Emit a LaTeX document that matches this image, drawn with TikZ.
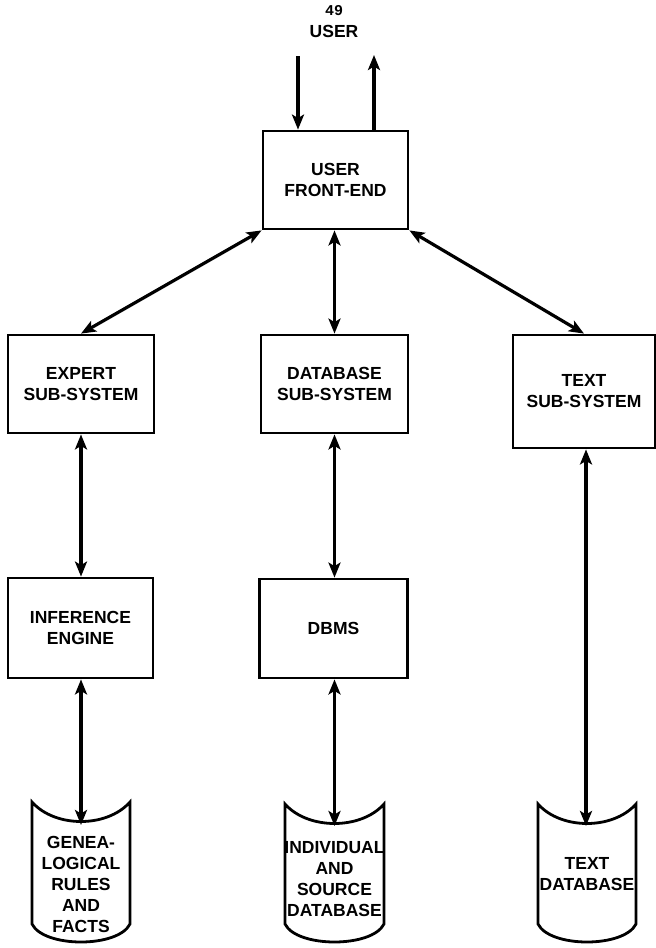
\documentclass[tikz,border=0pt]{standalone}
\usepackage{fontspec}
\setmainfont{Liberation Sans}
\newfontfamily\pagenumfont{Liberation Mono}
\usetikzlibrary{arrows.meta}
\begin{document}
\begin{tikzpicture}[x=1pt,y=-1pt,
  lbl/.style={font=\fontsize{17.5}{21}\selectfont\bfseries, align=center, inner sep=0pt},
  block/.style={draw, line width=2.8pt, inner sep=0pt},
  docshape/.style={draw, line width=2.8pt, line join=miter},
  tip/.tip={Stealth[length=15pt,width=12pt,inset=3.5pt]},
  link/.style={line width=3.2pt, {tip}-{tip}},
  oneway/.style={line width=3.2pt, -{tip}},
]
\useasboundingbox (0,0) rectangle (656,948);

% page number and the user at the top
\node[font=\pagenumfont\fontsize{15}{17}\selectfont\bfseries] (pnum) at (334,11) {49};
\node[lbl] (user) at (334,31) {USER};

% rectangular blocks
\node[block, minimum width=145pt, minimum height=98pt] (fe)  at (335.5,180) {};
\node[lbl] at (fe.center) {USER\\FRONT-END};

\node[block, minimum width=146pt, minimum height=98pt] (exp) at (81,384) {};
\node[lbl] at (exp.center) {EXPERT\\SUB-SYSTEM};

\node[block, minimum width=147pt, minimum height=98pt] (dbs) at (334.5,384) {};
\node[lbl] at (dbs.center) {DATABASE\\SUB-SYSTEM};

\node[block, minimum width=142pt, minimum height=113pt] (txs) at (584,391.5) {};
\node[lbl] at (txs.center) {TEXT\\SUB-SYSTEM};

\node[block, minimum width=145pt, minimum height=100pt] (inf) at (80.5,628) {};
\node[lbl] at (inf.center) {INFERENCE\\ENGINE};

\node[block, minimum width=148pt, minimum height=99pt] (dbms) at (333.5,628.5) {};
\node[lbl] at (dbms.center) {DBMS};

% storage (document) shapes
\draw[docshape] (32,802) .. controls (55,828) and (107,828) .. (130,802)
  -- (130,924) .. controls (118,948) and (44,948) .. (32,924) -- cycle;
\coordinate (gentop) at (81,825);
\node[lbl] (gen) at (81,884) {GENEA-\\LOGICAL\\RULES\\AND\\FACTS};

\draw[docshape] (285,804) .. controls (308,830) and (361,830) .. (384,804)
  -- (384,924) .. controls (372,948) and (297,948) .. (285,924) -- cycle;
\coordinate (indtop) at (334.5,826);
\node[lbl] (ind) at (334.5,879) {INDIVIDUAL\\AND\\SOURCE\\DATABASE};

\draw[docshape] (538,804) .. controls (561,830) and (613,830) .. (636,804)
  -- (636,924) .. controls (624,948) and (550,948) .. (538,924) -- cycle;
\coordinate (txttop) at (586,826);
\node[lbl] (txt) at (587,874) {TEXT\\DATABASE};

% connectors
\coordinate (userin)  at (298,56);
\coordinate (userout) at (374,55);
\draw[oneway] (userin) -- (userin |- fe.north);
\draw[oneway] (userout |- fe.north) -- (userout);
\draw[link] (fe.south west) -- (exp.north);
\draw[link] (dbs.north |- fe.south) -- (dbs.north);
\draw[link] (fe.south east) -- (txs.north);
\draw[link] (exp.south) -- (exp.south |- inf.north);
\draw[link] (dbs.south) -- (dbs.south |- dbms.north);
\draw[link] (gentop |- inf.south) -- (gentop);
\draw[link] (indtop |- dbms.south) -- (indtop);
\draw[link] (txttop |- txs.south) -- (txttop);
\end{tikzpicture}
\end{document}
